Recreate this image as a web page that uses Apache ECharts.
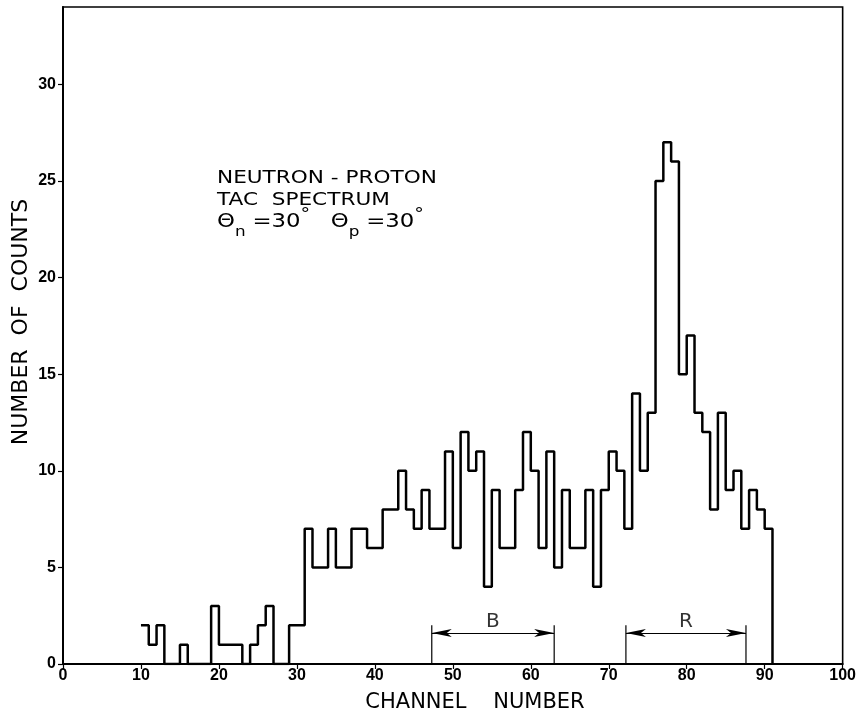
<!DOCTYPE html>
<html>
<head>
<meta charset="utf-8">
<script src="https://cdn.jsdelivr.net/npm/echarts@6/dist/echarts.min.js"></script>
<style>html,body{margin:0;padding:0;background:#fff}#chart{width:859px;height:714px}</style>
</head>
<body>
<div id="chart"></div>
<script>
// Histogram: counts per channel (bin starts at channel, width 1)
var channels = [10,11,12,13,14,15,16,17,18,19,20,21,22,23,24,25,26,27,28,29,30,
  31,32,33,34,35,36,37,38,39,40,41,42,43,44,45,46,47,48,49,50,
  51,52,53,54,55,56,57,58,59,60,61,62,63,64,65,66,67,68,69,70,
  71,72,73,74,75,76,77,78,79,80,81,82,83,84,85,86,87,88,89,90];
var counts = [2,1,2,0,0,1,0,0,0,3,1,1,1,0,1,2,3,0,0,2,2,
  7,5,5,7,5,5,7,7,6,6,8,8,10,8,7,9,7,7,11,6,
  12,10,11,4,9,6,6,9,12,10,6,11,5,9,6,6,9,4,9,11,
  10,7,14,10,13,25,27,26,15,17,13,12,8,13,9,10,7,9,8,7];
var lastEdge = 91;
var xTicks = [0,10,20,30,40,50,60,70,80,90,100];
var yTicks = [0,5,10,15,20,25,30];
// Windows B and R (channel ranges)
var windowB = [47.3, 63.0];
var windowR = [72.2, 87.6];
var windowLabels = ['B', 'R'];
var windowTickTop = 2.0;
var windowArrowY = 1.6;
var windowLabelY = 2.2;

var histData = channels.map(function (c, i) { return [c, counts[i]]; });
histData.push([lastEdge, 0]);

function bracket(w) {
  return [[w[0], 0], [w[0], windowTickTop], null, [w[1], 0], [w[1], windowTickTop]];
}

var chart = echarts.init(document.getElementById('chart'), null, {renderer: 'canvas'});
var labelFont = {fontFamily: 'Liberation Sans', fontWeight: 'bold', fontSize: 16, color: '#000'};
var option = {
  animation: false,
  backgroundColor: '#fff',
  grid: {left: 63, right: 14, top: 7, bottom: 50, show: true, borderColor: '#000', borderWidth: 1.6, backgroundColor: 'transparent'},
  xAxis: {
    type: 'value', min: 0, max: 100, interval: 10,
    axisLine: {lineStyle: {color: '#000', width: 2}},
    axisTick: {show: true, inside: false, length: 5, lineStyle: {color: '#000', width: 1.2}},
    axisLabel: Object.assign({margin: 4}, labelFont),
    splitLine: {show: false}
  },
  yAxis: {
    type: 'value', min: 0, max: 34, interval: 5,
    axisLine: {lineStyle: {color: '#000', width: 2}},
    axisTick: {show: true, inside: false, length: 5, lineStyle: {color: '#000', width: 1.2}},
    axisLabel: Object.assign({margin: 7, showMaxLabel: false,
      formatter: function (v) { return yTicks.indexOf(v) >= 0 ? String(v) : ''; }}, labelFont),
    splitLine: {show: false}
  },
  series: [
    {
      type: 'line', step: 'end', data: histData, symbol: 'none',
      lineStyle: {color: '#000', width: 2.5}, z: 5
    },
    {
      type: 'line', data: bracket(windowB).concat([null]).concat(bracket(windowR)),
      symbol: 'none', connectNulls: false,
      lineStyle: {color: '#000', width: 1.2},
      markLine: {
        silent: true, symbol: ['arrow', 'arrow'], symbolSize: [6, 20], symbolOffset: 0,
        label: {show: false},
        lineStyle: {color: '#000', width: 1, type: 'solid'},
        data: [
          [{coord: [windowB[0], windowArrowY]}, {coord: [windowB[1], windowArrowY]}],
          [{coord: [windowR[0], windowArrowY]}, {coord: [windowR[1], windowArrowY]}]
        ]
      }
    },
    {
      type: 'scatter', symbolSize: 0, silent: true,
      data: [
        {value: [(windowB[0] + windowB[1]) / 2, windowLabelY], name: windowLabels[0]},
        {value: [(windowR[0] + windowR[1]) / 2, windowLabelY], name: windowLabels[1]}
      ],
      label: {show: true, position: 'inside', formatter: '{b}', fontFamily: 'DejaVu Sans', fontSize: 20, color: '#000'}
    }
  ],
  graphic: [
    {
      type: 'text', left: 217, top: 167, scaleX: 1.2,
      style: {
        text: 'NEUTRON - PROTON\nTAC  SPECTRUM\n{t|Θ}{s|n} {t|=30}{d|°}   {t|Θ}{s|p} {t|=30}{d|°}',
        fontFamily: 'DejaVu Sans', fontSize: 18, lineHeight: 22, fill: '#000',
        rich: {
          t: {fontFamily: 'DejaVu Sans', fontSize: 19, lineHeight: 22, verticalAlign: 'middle'},
          s: {fontFamily: 'DejaVu Sans', fontSize: 14, lineHeight: 14, verticalAlign: 'bottom', padding: [0, 0, -6, 0]},
          d: {fontFamily: 'DejaVu Sans', fontSize: 16, lineHeight: 16, verticalAlign: 'top', padding: [-4, 0, 0, 0]}
        }
      }
    },
    {
      type: 'text', x: 475, y: 703,
      style: {text: 'CHANNEL    NUMBER', fontFamily: 'DejaVu Sans', fontSize: 21, fill: '#000', align: 'center', verticalAlign: 'middle'}
    },
    {
      type: 'text', x: 21, y: 322, rotation: Math.PI / 2,
      style: {text: 'NUMBER  OF  COUNTS', fontFamily: 'DejaVu Sans', fontSize: 22, fill: '#000', align: 'center', verticalAlign: 'middle'}
    }
  ]
};
chart.setOption(option);
</script>
</body>
</html>
